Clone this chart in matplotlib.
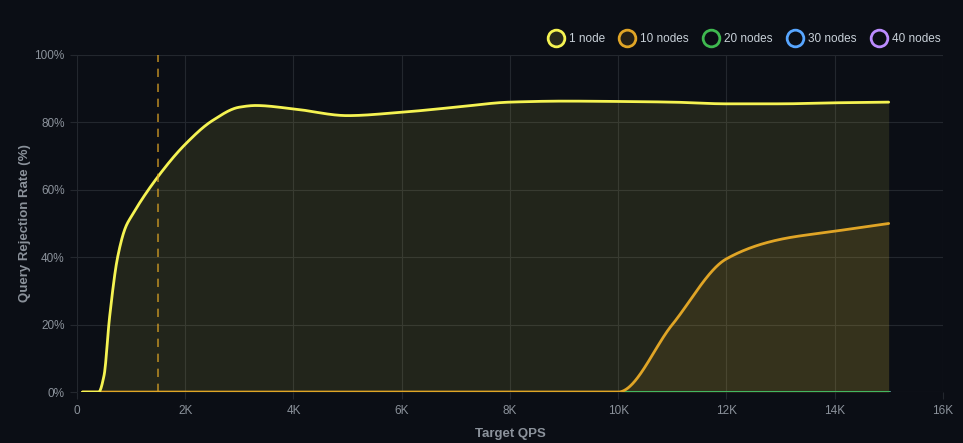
import numpy as np
import matplotlib
matplotlib.use("Agg")
import matplotlib.pyplot as plt
from matplotlib.lines import Line2D

plt.rcParams["font.family"] = ["Liberation Sans", "DejaVu Sans"]

# ---- data ----
qps_1 = [100, 400, 500, 600, 750, 900, 1000, 1500, 2000, 2500, 3000, 3300, 4000, 5000, 6000,
         7000, 8000, 9000, 10000, 11000, 12000, 13000, 14000, 15000]
rate_1 = [0, 0, 5, 22, 40, 49, 52, 64, 73.5, 80.5, 84.5, 85, 84, 82, 83,
          84.5, 86, 86.3, 86.2, 86, 85.5, 85.5, 85.8, 86]
qps_10 = [100, 2000, 4000, 6000, 8000, 9000, 10000, 11000, 12000, 13000, 14000, 15000]
rate_10 = [0, 0, 0, 0, 0, 0, 0, 20, 39.5, 45.3, 47.7, 50]
qps_zero = [100, 15000]
rate_20 = [0, 0]
rate_30 = [0, 0]
rate_40 = [0, 0]
threshold_qps = 1500
series_names = ["1 node", "10 nodes", "20 nodes", "30 nodes", "40 nodes"]
colors = ["#f5f352", "#e0a526", "#3fb950", "#58a6ff", "#bc8cff"]
x_ticks = [0, 2000, 4000, 6000, 8000, 10000, 12000, 14000, 16000]
x_labels = ["0", "2K", "4K", "6K", "8K", "10K", "12K", "14K", "16K"]
y_ticks = [0, 20, 40, 60, 80, 100]
y_labels = ["0%", "20%", "40%", "60%", "80%", "100%"]


def monotone(x, y, n=1600):
    x = np.asarray(x, float); y = np.asarray(y, float)
    h = np.diff(x); d = np.diff(y) / h
    m = np.zeros_like(x)
    m[0] = d[0]; m[-1] = d[-1]
    for i in range(1, len(x) - 1):
        if d[i - 1] * d[i] <= 0:
            m[i] = 0
        else:
            w1 = 2 * h[i] + h[i - 1]; w2 = h[i] + 2 * h[i - 1]
            m[i] = (w1 + w2) / (w1 / d[i - 1] + w2 / d[i])
    xs = np.linspace(x[0], x[-1], n)
    idx = np.clip(np.searchsorted(x, xs) - 1, 0, len(x) - 2)
    t = (xs - x[idx]) / h[idx]
    h00 = 2 * t**3 - 3 * t**2 + 1; h10 = t**3 - 2 * t**2 + t
    h01 = -2 * t**3 + 3 * t**2; h11 = t**3 - t**2
    ys = h00 * y[idx] + h10 * h[idx] * m[idx] + h01 * y[idx + 1] + h11 * h[idx] * m[idx + 1]
    return xs, ys


bg = "#0b0e15"
grid_c = "#23272e"
txt_c = "#8b929b"

fig = plt.figure(figsize=(9.63, 4.43), dpi=100, facecolor=bg)
ax = fig.add_axes([0.080, 0.115, 0.899, 0.761], facecolor=bg)

series = [(qps_1, rate_1), (qps_10, rate_10), (qps_zero, rate_20), (qps_zero, rate_30), (qps_zero, rate_40)]
for i in reversed(range(len(series))):
    xv, yv = series[i]
    if len(xv) > 2:
        xs, ys = monotone(xv, yv)
    else:
        xs, ys = np.asarray(xv, float), np.asarray(yv, float)
    ax.fill_between(xs, 0, ys, color=colors[i], alpha=0.1, lw=0, zorder=2 + (5 - i))
    ax.plot(xs, ys, color=colors[i], lw=2, zorder=10 + (5 - i), solid_capstyle="round")

ax.axvline(threshold_qps, color="#e0a526", lw=1.2, ls=(0, (5, 4)), alpha=0.75, zorder=20)

ax.set_xlim(0, 16000)
ax.set_ylim(0, 100)
ax.set_xticks(x_ticks)
ax.set_xticklabels(x_labels)
ax.set_yticks(y_ticks)
ax.set_yticklabels(y_labels)
ax.grid(True, color=grid_c, lw=0.8, zorder=0)
for s in ax.spines.values():
    s.set_visible(False)
ax.tick_params(colors=txt_c, labelsize=8.5, length=5, width=0.8, color=grid_c, pad=4)
ax.set_xlabel("Target QPS", color=txt_c, fontsize=9.5, fontweight="bold", labelpad=8.5)
ax.set_ylabel("Query Rejection Rate (%)", color=txt_c, fontsize=9.5, fontweight="bold", labelpad=2.5)

handles = []
for i, c in enumerate(colors):
    face = matplotlib.colors.to_rgba(c, 0.12) if i < 2 else (0, 0, 0, 0)
    handles.append(Line2D([], [], marker="o", ls="none", markersize=12, markeredgewidth=2,
                          markeredgecolor=c, markerfacecolor=face))
leg = fig.legend(handles, series_names, loc="upper right", bbox_to_anchor=(0.988, 0.95),
                 ncol=5, frameon=False, fontsize=8.5, labelcolor="#c9d1d9",
                 handletextpad=0.3, columnspacing=1.1, handlelength=1.6)

fig.savefig("out.png", dpi=100, facecolor=bg)
